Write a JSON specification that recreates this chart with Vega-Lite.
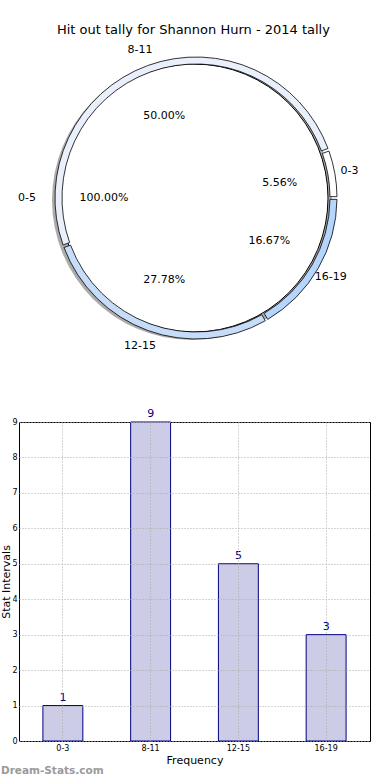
{
  "$schema": "https://vega.github.io/schema/vega-lite/v6.json",
  "padding": {"left": 0, "top": 24, "right": 12, "bottom": 0},
  "config": {
    "font": "DejaVu Sans",
    "view": {"stroke": null},
    "title": {"font": "DejaVu Sans"},
    "axis": {"labelFont": "DejaVu Sans", "titleFont": "DejaVu Sans"},
    "text": {"font": "DejaVu Sans"}
  },
  "title": {
    "text": "Hit out tally for Shannon Hurn - 2014 tally",
    "fontSize": 13,
    "fontWeight": "normal",
    "color": "#000000",
    "anchor": "middle",
    "dx": 8,
    "offset": 2
  },
  "datasets": {
    "ring": [
      {"range": "0-3", "count": 1, "pct": "5.56%", "ord": 1},
      {"range": "16-19", "count": 3, "pct": "16.67%", "ord": 2},
      {"range": "12-15", "count": 5, "pct": "27.78%", "ord": 3},
      {"range": "8-11", "count": 9, "pct": "50.00%", "ord": 4}
    ],
    "inner": [
      {"range": "0-5", "count": 1, "pct": "100.00%"}
    ],
    "bars": [
      {"range": "0-3", "count": 1},
      {"range": "8-11", "count": 9},
      {"range": "12-15", "count": 5},
      {"range": "16-19", "count": 3}
    ]
  },
  "vconcat": [
    {
      "width": 350,
      "height": 318,
      "layer": [
        {
          "data": {"name": "inner"},
          "mark": {"type": "arc", "outerRadius": 140, "fill": "#666666", "opacity": 0.55, "xOffset": -2, "yOffset": 2},
          "encoding": {
            "theta": {"field": "count", "type": "quantitative", "stack": true, "scale": {"range": [1.5708, 7.854]}}
          }
        },
        {
          "data": {"name": "inner"},
          "mark": {"type": "arc", "outerRadius": 134, "fill": "#ffffff", "stroke": "#000000", "strokeWidth": 1},
          "encoding": {
            "theta": {"field": "count", "type": "quantitative", "stack": true, "scale": {"range": [1.5708, 7.854]}}
          }
        },
        {
          "data": {"name": "ring"},
          "mark": {"type": "arc", "innerRadius": 134, "outerRadius": 141, "padAngle": 0.014, "stroke": "#000000", "strokeWidth": 0.8, "xOffset": 2},
          "encoding": {
            "theta": {"field": "count", "type": "quantitative", "stack": true, "scale": {"range": [1.2217, 7.5049]}},
            "order": {"field": "ord", "type": "quantitative"},
            "color": {
              "field": "range",
              "type": "nominal",
              "scale": {"domain": ["0-3", "16-19", "12-15", "8-11"], "range": ["#ffffff", "#b5d5fc", "#c6dcf9", "#e9effb"]},
              "legend": null
            }
          }
        },
        {
          "data": {"name": "ring"},
          "mark": {"type": "text", "radius": 87, "fontSize": 11, "color": "#000000"},
          "encoding": {
            "theta": {"field": "count", "type": "quantitative", "stack": true, "scale": {"range": [1.2217, 7.5049]}},
            "order": {"field": "ord", "type": "quantitative"},
            "text": {"field": "pct", "type": "nominal"}
          }
        },
        {
          "data": {"name": "ring"},
          "mark": {"type": "text", "radius": 158, "fontSize": 11, "color": "#000000"},
          "encoding": {
            "theta": {"field": "count", "type": "quantitative", "stack": true, "scale": {"range": [1.2217, 7.5049]}},
            "order": {"field": "ord", "type": "quantitative"},
            "text": {"field": "range", "type": "nominal"}
          }
        },
        {
          "data": {"name": "inner"},
          "mark": {"type": "text", "radius": 90, "fontSize": 11, "color": "#000000"},
          "encoding": {
            "theta": {"field": "count", "type": "quantitative", "stack": true, "scale": {"range": [1.5708, 7.854]}},
            "text": {"field": "pct", "type": "nominal"}
          }
        },
        {
          "data": {"name": "inner"},
          "mark": {"type": "text", "radius": 167, "fontSize": 11, "color": "#000000"},
          "encoding": {
            "theta": {"field": "count", "type": "quantitative", "stack": true, "scale": {"range": [1.5708, 7.854]}},
            "text": {"field": "range", "type": "nominal"}
          }
        }
      ],
      "resolve": {"scale": {"theta": "independent", "color": "independent"}}
    },
    {
      "width": 351,
      "height": 319,
      "data": {"name": "bars"},
      "view": {"stroke": "#000000", "strokeWidth": 1},
      "title": {
        "text": "Dream-Stats.com",
        "orient": "bottom",
        "anchor": "start",
        "frame": "bounds",
        "fontSize": 10.5,
        "fontWeight": "bold",
        "color": "#9a9a9a",
        "offset": 1
      },
      "encoding": {
        "x": {
          "field": "range",
          "type": "nominal",
          "sort": null,
          "scale": {"paddingInner": 0.545, "paddingOuter": 0.2725},
          "axis": {
            "title": "Frequency",
            "labelAngle": 0,
            "labelFontSize": 8,
            "labelColor": "#000000",
            "titleFontSize": 11,
            "titleFontWeight": "normal",
            "titleColor": "#000000",
            "grid": true,
            "gridDash": [1, 2],
            "gridColor": "#aaaaaa",
            "bandPosition": 0.5,
            "domain": false,
            "ticks": false,
            "labelPadding": 3,
            "titlePadding": 2,
            "zindex": 1
          }
        },
        "y": {
          "field": "count",
          "type": "quantitative",
          "scale": {"domain": [0, 9], "nice": false},
          "axis": {
            "title": "Stat Intervals",
            "values": [0, 1, 2, 3, 4, 5, 6, 7, 8, 9],
            "labelFontSize": 8,
            "labelColor": "#000000",
            "titleFontSize": 11,
            "titleFontWeight": "normal",
            "titleColor": "#000000",
            "grid": true,
            "gridDash": [1, 2],
            "gridColor": "#aaaaaa",
            "domain": false,
            "ticks": false,
            "labelPadding": 2,
            "titlePadding": 0,
            "zindex": 1
          }
        }
      },
      "layer": [
        {"mark": {"type": "bar", "fill": "#ccccE6", "stroke": "#000080", "strokeWidth": 1}},
        {
          "mark": {"type": "text", "dy": -8, "color": "#000080", "fontSize": 11},
          "encoding": {"text": {"field": "count", "type": "quantitative"}}
        }
      ]
    }
  ],
  "spacing": 50
}
